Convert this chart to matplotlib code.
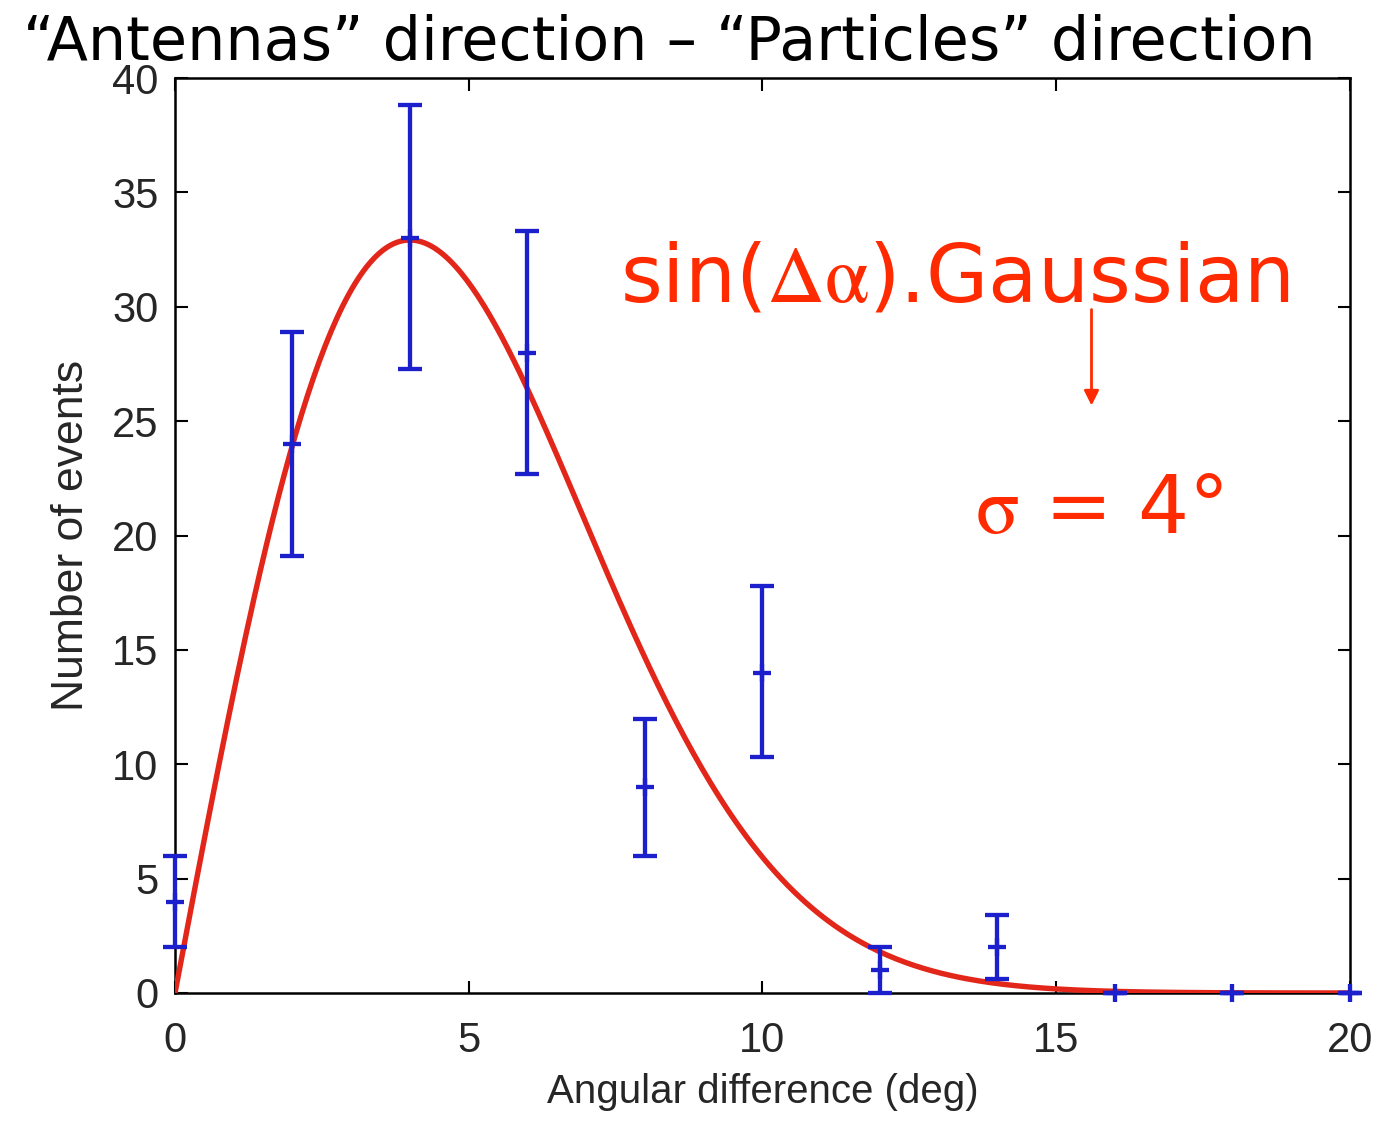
import numpy as np
import matplotlib
matplotlib.use("Agg")
import matplotlib.pyplot as plt

# Measured event counts per angular bin, with their error-bar extents
angle_deg = [0, 2, 4, 6, 8, 10, 12, 14, 16, 18, 20]
events = [4, 24, 33, 28, 9, 14, 1, 2, 0, 0, 0]
err_low = [2, 19.1, 27.3, 22.7, 6, 10.3, 0, 0.6, 0, 0, 0]
err_high = [6, 28.9, 38.8, 33.3, 12, 17.8, 2, 3.4, 0, 0, 0]

# Fitted model: amplitude * sin(da) * exp(-da^2 / (2 sigma^2))
fit_sigma = 4.0
fit_amplitude = 778.0

x_ticks = [0, 5, 10, 15, 20]
y_ticks = [0, 5, 10, 15, 20, 25, 30, 35, 40]

plt.rcParams["mathtext.fontset"] = "stix"

fig = plt.figure(figsize=(13.75, 11.23), dpi=100)
ax = fig.add_axes([175 / 1375, 1 - 993 / 1123, 1175 / 1375, 915 / 1123])

blue = "#1c1fcc"
red_curve = "#e2261a"
red_text = "#ff2a00"
label_grey = "#262626"

# Fit curve
xs = np.linspace(0, 20, 400)
ys = fit_amplitude * np.sin(np.radians(xs)) * np.exp(-xs ** 2 / (2 * fit_sigma ** 2))
ax.plot(xs, ys, color=red_curve, lw=3.9, zorder=3, solid_capstyle="round")

# Data with asymmetric error bars
ev = np.array(events, dtype=float)
lo = ev - np.array(err_low)
hi = np.array(err_high) - ev
ax.errorbar(angle_deg, events, yerr=[lo, hi], fmt="+", color=blue, ecolor=blue,
            elinewidth=3.1, capsize=8.5, capthick=3.1, markersize=13,
            markeredgewidth=3.1, zorder=4, clip_on=False)

ax.set_xlim(0, 20)
ax.set_ylim(0, 40)
ax.set_xticks(x_ticks)
ax.set_yticks(y_ticks)
ax.tick_params(direction="in", length=9, width=1.5, top=True, right=True,
               labelsize=30, labelcolor=label_grey)
ax.tick_params(axis="x", pad=20)
ax.tick_params(axis="y", pad=12)
for lab in ax.get_xticklabels() + ax.get_yticklabels():
    lab.set_family("Liberation Sans")
for sp in ax.spines.values():
    sp.set_linewidth(1.8)

ax.set_xlabel("Angular difference (deg)", fontsize=29, family="Liberation Sans",
              color=label_grey, labelpad=9)
ax.set_ylabel("Number of events", fontsize=32, family="Liberation Sans",
              color=label_grey, labelpad=14)

fig.text(0.487, 0.961, "\u201cAntennas\u201d direction \u2013 \u201cParticles\u201d direction",
         ha="center", va="center", fontsize=43.5, family="DejaVu Sans", color="black")

ax.text(0.664, 0.78, r"sin($\mathrm{\Delta\alpha}$).Gaussian", transform=ax.transAxes,
        ha="center", va="center", fontsize=58, color=red_text, family="DejaVu Sans")
ax.text(0.787, 0.527, r"$\mathrm{\sigma}$ = 4°", transform=ax.transAxes,
        ha="center", va="center", fontsize=58, color=red_text, family="DejaVu Sans")
ax.annotate("", xy=(0.780, 0.639), xytext=(0.780, 0.750), xycoords="axes fraction",
            arrowprops=dict(arrowstyle="-|>", color=red_text, lw=2, mutation_scale=22))

fig.savefig("out.png", dpi=100, facecolor="white")
